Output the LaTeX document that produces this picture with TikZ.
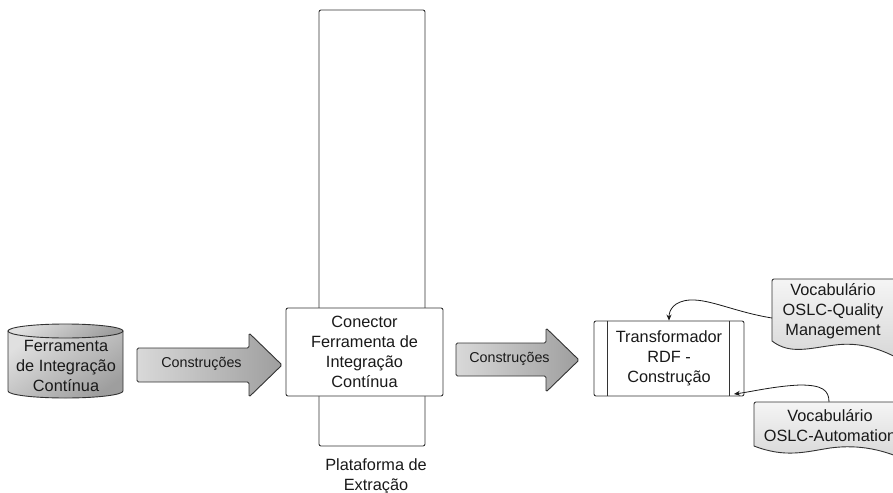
\documentclass[tikz,border=0pt]{standalone}
\usepackage{fontspec}
\setmainfont{Liberation Sans}
\usetikzlibrary{arrows.meta}
\begin{document}
\begin{tikzpicture}[x=1pt,y=-1pt,
  ln/.style={draw=black!80, line width=0.9pt},
  boxst/.style={ln, rectangle, rounded corners=2pt, fill=white, inner sep=0pt},
  txt/.style={align=center, font=\fontsize{16.3}{20}\selectfont, inner sep=0pt, text=black!90},
  arrtxt/.style={font=\fontsize{14.3}{17}\selectfont, inner sep=0pt, text=black!90},
  grayshade/.style={top color=black!12, bottom color=black!38, shading angle=35},
  arrshade/.style={left color=black!15, right color=black!38},
  docshade/.style={top color=black!4, bottom color=black!16},
  conn/.style={draw=black!90, line width=0.8pt, -{Stealth[length=6pt,width=5pt]}},
]
\useasboundingbox (0,0) rectangle (893,492);
\clip (0,0) rectangle (893,492);

% cylinder
\path[ln, grayshade] (8,331) -- (8,391) .. controls (8,394.87) and (33.74,398) .. (65.5,398)
   .. controls (97.26,398) and (123,394.87) .. (123,391) -- (123,331) -- cycle;
\path[ln, grayshade] (65.5,331) ellipse [x radius=57.5, y radius=7];
\node[txt] (cyl) at (66,366) {Ferramenta\\de Integração\\Contínua};

% arrow 1
\path[ln, arrshade, rounded corners=1.5pt] (137,348) -- (249,348) -- (249,333) -- (282,365)
   -- (249,397) -- (249,382) -- (137,382) -- cycle;
\node[arrtxt] (a1) at (201.5,364) {Construções};

% platform
\node[boxst, minimum width=106pt, minimum height=436pt] (plat) at (372,228) {};
\node[boxst, txt, minimum width=157pt, minimum height=88pt] (con) at (364.5,352)
   {Conector\\Ferramenta de\\Integração\\Contínua};
\node[txt, anchor=north] (platlbl) at (376,458) {Plataforma de\\Extração};

% arrow 2
\path[ln, arrshade, rounded corners=1.5pt] (456,343) -- (546,343) -- (546,328) -- (579,360)
   -- (546,392) -- (546,376) -- (456,376) -- cycle;
\node[arrtxt] (a2) at (509.5,359) {Construções};

% transformador
\node[boxst, txt, minimum width=150pt, minimum height=75pt] (tr) at (669,358.5)
   {Transformador\\RDF -\\Construção};
\draw[ln] ([xshift=14pt]tr.north west) -- ([xshift=14pt]tr.south west);
\draw[ln] ([xshift=-15pt]tr.north east) -- ([xshift=-15pt]tr.south east);

% document 1
\path[ln, docshade] (772,341) [rounded corners=2pt] -- (772,279) -- (905,279) [sharp corners] -- (905,362)
   .. controls (880,348) and (860,342) .. (835,345) .. controls (810,348) and (790,355) .. (772,341) -- cycle;
\node[txt] (doc1) at (833,311) {Vocabulário\\OSLC-Quality\\Management};

% document 2
\path[ln, docshade] (754,446) [rounded corners=2pt] -- (754,402) -- (910,402) [sharp corners] -- (910,462)
   .. controls (885,450) and (860,444) .. (830,448) .. controls (805,452) and (785,458) .. (754,446) -- cycle;
\node[txt] (doc2) at (830,426) {Vocabulário\\OSLC-Automation};

% connectors
\coordinate (d1w) at (772,318);
\coordinate (d2n) at (829,402);
\coordinate (trse) at (734,394);
\draw[conn] (d1w) .. controls (735,312) and (710,299) .. (690,300)
   .. controls (674,301) and (669,310) .. (tr.north);
\draw[conn] (d2n) .. controls (829,390) and (822,385) .. (800,385)
   .. controls (775,386) and (750,392) .. (trse);
\end{tikzpicture}
\end{document}
